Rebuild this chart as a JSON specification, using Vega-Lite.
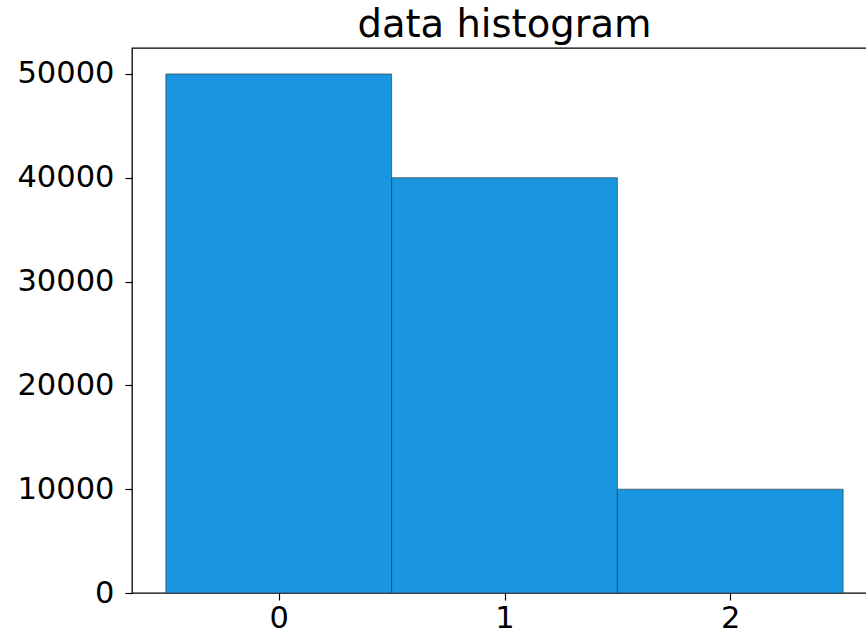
{
  "$schema": "https://vega.github.io/schema/vega-lite/v6.json",
  "autosize": {"type": "none"},
  "padding": {"left": 132, "top": 48, "right": 0, "bottom": 40},
  "width": 745,
  "height": 545,
  "background": "white",
  "title": {
    "text": "data histogram",
    "font": "DejaVu Sans",
    "fontSize": 38.5,
    "fontWeight": "normal",
    "color": "#000000",
    "offset": 3
  },
  "data": {
    "values": [
      {"value": 0, "lo": -0.5, "hi": 0.5, "count": 50000},
      {"value": 1, "lo": 0.5, "hi": 1.5, "count": 40000},
      {"value": 2, "lo": 1.5, "hi": 2.5, "count": 10000}
    ]
  },
  "mark": {
    "type": "bar",
    "color": "#1a96e0",
    "stroke": "#333333",
    "strokeWidth": 0.8,
    "strokeOpacity": 0.8,
    "binSpacing": 0
  },
  "encoding": {
    "x": {
      "field": "lo",
      "type": "quantitative",
      "scale": {"domain": [-0.65, 2.65], "nice": false, "zero": false},
      "axis": {"values": [0, 1, 2], "format": "d", "title": null}
    },
    "x2": {"field": "hi"},
    "y": {
      "field": "count",
      "type": "quantitative",
      "scale": {"domain": [0, 52500], "nice": false},
      "axis": {"values": [0, 10000, 20000, 30000, 40000, 50000], "format": "d", "title": null}
    },
    "y2": {"datum": 0}
  },
  "config": {
    "view": {"stroke": "#000000", "strokeWidth": 1.3},
    "axis": {
      "grid": false,
      "domain": false,
      "ticks": true,
      "tickColor": "#000000",
      "tickSize": 7,
      "tickWidth": 1.2,
      "labelFont": "DejaVu Sans",
      "labelFontSize": 30.5,
      "labelColor": "#000000",
      "labelPadding": 4
    },
    "axisY": {"labelPadding": 11},
    "axisX": {"labelPadding": 3}
  }
}
